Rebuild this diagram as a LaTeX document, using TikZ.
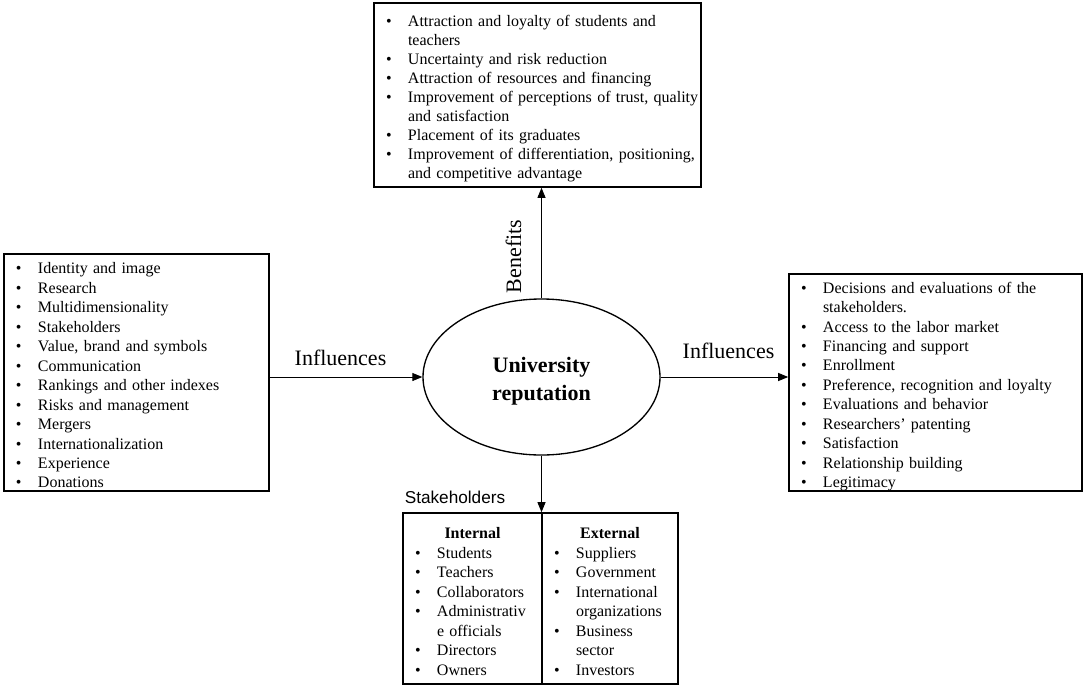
\documentclass[tikz,border=0pt]{standalone}
\usepackage{fontspec}
\setmainfont{Liberation Serif}
\newfontfamily\arialf{Liberation Sans}
\usetikzlibrary{arrows.meta,shapes.geometric}
\newlength\dropamt
\newcommand\dr[1]{\raisebox{-\dropamt}[\height][\depth]{#1}}
\newcommand\bi[1]{\dr{\mbox{\hspace*{9pt}\makebox[16.5pt][l]{\textbullet}#1}}}
\newcommand\ci[1]{\dr{\mbox{\hspace*{25.5pt}#1}}}
\newcommand\hdr[1]{\makebox[\linewidth][c]{\dr{\textbf{#1}}}}
\tikzset{
  listbox/.style={draw, line width=1.2pt, rectangle, inner xsep=0pt, inner ysep=0pt, align=left,
    font=\fontsize{12pt}{14.6pt}\selectfont},
  conn/.style={line width=0.7pt, -{Triangle[length=7.5pt,width=6pt]}},
  biglabel/.style={font=\fontsize{16.5pt}{20pt}\selectfont, inner sep=0pt},
}
\begin{document}
\begin{tikzpicture}[x=0.75pt,y=-0.75pt]
\useasboundingbox (0,0) rectangle (1084,689);

\node[listbox, minimum width={327*0.75pt}, minimum height={184*0.75pt}, text width={327*0.75pt},
  font=\fontsize{12pt}{14.3pt}\selectfont] (tbox) at (537.5,95) {\setlength\dropamt{2.7pt}%
\bi{Attraction and loyalty of students and}\\
\ci{teachers}\\
\bi{Uncertainty and risk reduction}\\
\bi{Attraction of resources and financing}\\
\bi{Improvement of perceptions of trust, quality}\\
\ci{and satisfaction}\\
\bi{Placement of its graduates}\\
\bi{Improvement of differentiation, positioning,}\\
\ci{and competitive advantage}};

\node[listbox, minimum width={265*0.75pt}, minimum height={237*0.75pt}, text width={265*0.75pt}] (lbox) at (136.5,372.5) {\setlength\dropamt{2.2pt}%
\bi{Identity and image}\\
\bi{Research}\\
\bi{Multidimensionality}\\
\bi{Stakeholders}\\
\bi{Value, brand and symbols}\\
\bi{Communication}\\
\bi{Rankings and other indexes}\\
\bi{Risks and management}\\
\bi{Mergers}\\
\bi{Internationalization}\\
\bi{Experience}\\
\bi{Donations}};

\node[listbox, minimum width={293*0.75pt}, minimum height={217*0.75pt}, text width={293*0.75pt}] (rbox) at (935.5,382.5) {\setlength\dropamt{3pt}%
\bi{Decisions and evaluations of the}\\
\ci{stakeholders.}\\
\bi{Access to the labor market}\\
\bi{Financing and support}\\
\bi{Enrollment}\\
\bi{Preference, recognition and loyalty}\\
\bi{Evaluations and behavior}\\
\bi{Researchers’ patenting}\\
\bi{Satisfaction}\\
\bi{Relationship building}\\
\bi{Legitimacy}};

\node[listbox, minimum width={139*0.75pt}, minimum height={171*0.75pt}, text width={139*0.75pt}] (ibox) at (472.5,598.5) {\setlength\dropamt{2.25pt}%
\hdr{Internal}\\
\bi{Students}\\
\bi{Teachers}\\
\bi{Collaborators}\\
\bi{Administrativ}\\
\ci{e officials}\\
\bi{Directors}\\
\bi{Owners}};

\node[listbox, minimum width={136*0.75pt}, minimum height={171*0.75pt}, text width={136*0.75pt}] (ebox) at (610,598.5) {\setlength\dropamt{2.25pt}%
\hdr{External}\\
\bi{Suppliers}\\
\bi{Government}\\
\bi{International}\\
\ci{organizations}\\
\bi{Business}\\
\ci{sector}\\
\bi{Investors}};

\node[draw, ellipse, line width=1pt, minimum width={237*0.75pt}, minimum height={156*0.75pt}, inner sep=0pt,
  align=center, font=\bfseries\fontsize{16.5pt}{21pt}\selectfont] (ell) at (541.5,377)
  {\raisebox{-3pt}[\height][\depth]{University}\\\raisebox{-3pt}[\height][\depth]{reputation}};

\draw[conn] (lbox.east |- ell.west) -- (ell.west);
\draw[conn] (ell.east) -- (ell.east -| rbox.west);
\draw[conn] (ell.north) -- (ell.north |- tbox.south);
\draw[conn] (ell.south) -- (ell.south |- ebox.north);

\node[biglabel] (linf) at (340.5,358) {Influences};
\node[biglabel] (rinf) at (728.5,350.5) {Influences};
\node[biglabel, rotate=90] (ben) at (513.5,256.5) {Benefits};
\node[inner sep=0pt, font=\arialf\fontsize{12.9pt}{15pt}\selectfont] (stk) at (455,497) {Stakeholders};
\end{tikzpicture}
\end{document}
